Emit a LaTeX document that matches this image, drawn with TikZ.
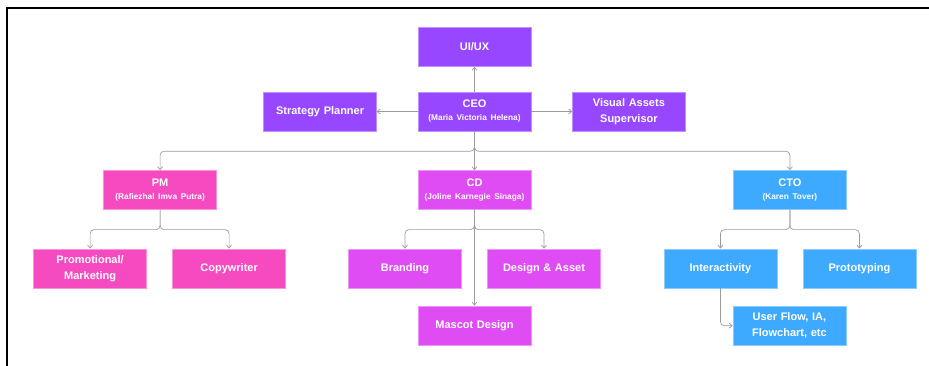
\documentclass[tikz,border=0pt]{standalone}
\usepackage{fontspec}
\setmainfont{Liberation Sans}
\usetikzlibrary{positioning,arrows.meta}

\definecolor{leadpurple}{RGB}{151,71,255}
\definecolor{mktpink}{RGB}{246,75,192}
\definecolor{designmag}{RGB}{224,76,243}
\definecolor{techblue}{RGB}{61,170,255}
\definecolor{linkgray}{RGB}{155,155,155}

\tikzstyle{unit} = [rectangle, minimum width=113pt, minimum height=39pt, inner sep=0pt, text width=110pt, align=center, text=white, font=\bfseries\fontsize{11}{16}\selectfont]
\tikzstyle{lead} = [unit, fill=leadpurple, draw=leadpurple!60!white]
\tikzstyle{marketing} = [unit, fill=mktpink, draw=mktpink!60!white]
\tikzstyle{design} = [unit, fill=designmag, draw=designmag!60!white]
\tikzstyle{tech} = [unit, fill=techblue, draw=techblue!60!white]
\tikzstyle{arrow} = [line width=0.7pt, linkgray, rounded corners=4pt, ->, >={Straight Barb[length=3pt,width=5pt]}]
\newcommand{\who}[1]{\\[-3pt]{\fontsize{8.3}{10}\selectfont #1}}

\begin{document}
\begin{tikzpicture}

\useasboundingbox (0,0) rectangle (929pt,-365pt);
\draw [line width=2pt] (7pt,-366pt) -- (7pt,-8pt) -- (930pt,-8pt);

\node (ceo) [lead] at (474.5pt,-111.5pt) {CEO\who{(Maria Victoria Helena)}};
\node (uiux) [lead, above=25pt of ceo] {UI/UX};
\node (planner) [lead, left=41pt of ceo] {Strategy Planner};
\node (visual) [lead, right=41pt of ceo] {Visual Assets\\Supervisor};

\node (cd) [design, below=39pt of ceo] {CD\who{(Joline Karnegie Sinaga)}};
\node (pm) [marketing, left=201pt of cd] {PM\who{(Rafiezhal Imva Putra)}};
\node (cto) [tech, right=202pt of cd] {CTO\who{(Karen Tover)}};

\node (promo) [marketing, below=39pt of pm, xshift=-70pt] {Promotional/\\Marketing};
\node (copy) [marketing, below=39pt of pm, xshift=69pt] {Copywriter};
\node (branding) [design, below=39pt of cd, xshift=-69.5pt] {Branding};
\node (asset) [design, below=39pt of cd, xshift=69.5pt] {Design \& Asset};
\node (mascot) [design, below=96pt of cd] {Mascot Design};
\node (interact) [tech, below=39pt of cto, xshift=-69.5pt] {Interactivity};
\node (proto) [tech, below=39pt of cto, xshift=69.5pt] {Prototyping};
\node (userflow) [tech, below=18pt of interact, xshift=69pt] {User Flow, IA,\\Flowchart, etc};

\draw [arrow] (ceo) -- (uiux);
\draw [arrow] (ceo) -- (planner);
\draw [arrow] (ceo) -- (visual);
\draw [arrow] (ceo) -- (cd);
\draw [arrow] (ceo.south) -- ++(0,-20pt) -| (pm.north);
\draw [arrow] (ceo.south) -- ++(0,-20pt) -| (cto.north);

\draw [arrow] (pm.south) -- ++(0,-20pt) -| (promo.north);
\draw [arrow] (pm.south) -- ++(0,-20pt) -| (copy.north);
\draw [arrow] (cd.south) -- ++(0,-20pt) -| (branding.north);
\draw [arrow] (cd.south) -- ++(0,-20pt) -| (asset.north);
\draw [arrow] (cd) -- (mascot);
\draw [arrow] (cto.south) -- ++(0,-20pt) -| (interact.north);
\draw [arrow] (cto.south) -- ++(0,-20pt) -| (proto.north);
\draw [arrow] (interact.south) |- (userflow.west);

\end{tikzpicture}
\end{document}
